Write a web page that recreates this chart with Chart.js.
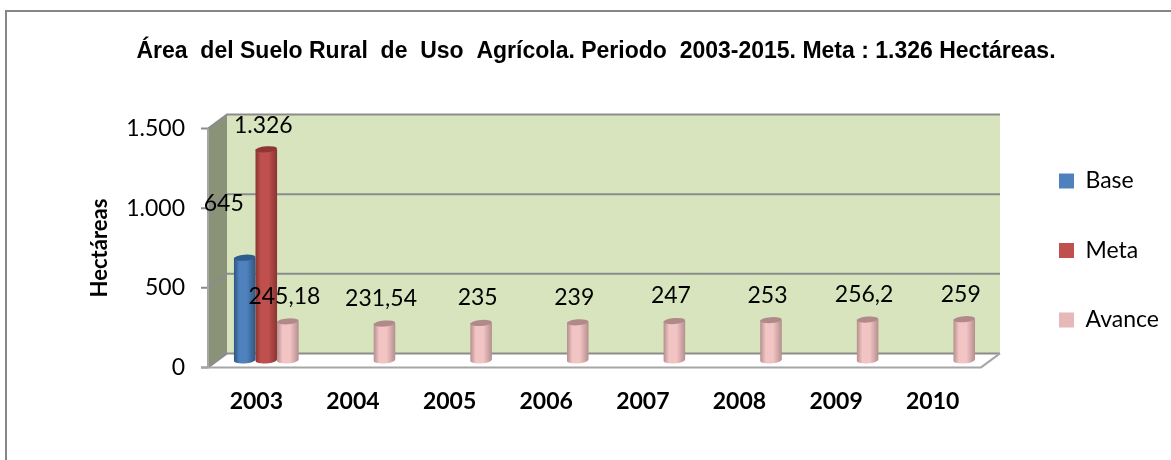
<!DOCTYPE html>
<html>
<head>
<meta charset="utf-8">
<script src="https://cdn.jsdelivr.net/npm/chart.js@4"></script>
<style>
html, body { margin: 0; padding: 0; background: #fff; }
#wrap { width: 1171px; height: 460px; }
</style>
</head>
<body>
<div id="wrap"><canvas id="areaSueloChart" width="1171" height="460"></canvas></div>
<script>
const years = ['2003', '2004', '2005', '2006', '2007', '2008', '2009', '2010'];
const baseValues = [645, null, null, null, null, null, null, null];
const metaValues = [1326, null, null, null, null, null, null, null];
const avanceValues = [245.18, 231.54, 235, 239, 247, 253, 256.2, 259];
const yTicks = [0, 500, 1000, 1500];
const chartTitle = 'Área  del Suelo Rural  de  Uso  Agrícola. Periodo  2003-2015. Meta : 1.326 Hectáreas.';

// how far the back wall sits from the front axis
const depthX = 19;
const depthY = 14;
// the bars stand a little behind the front edge of the floor
const barShiftX = 10;
const barShiftY = 7;
// value label offset from the bar, one per dataset (Base, Meta, Avance)
const labelDx = [-11, 7, 6.5];
const labelUp = [54, 24, 25];

function numLabel(v) {
    return v.toLocaleString('de-DE');
}

const frameAndWalls = {
    id: 'frameAndWalls',
    beforeLayout(chart) {
        // reserve the whole strip right of the plot for the legend
        const lg = chart.legend;
        if (!lg.wideFit) {
            const fit = lg.fit;
            lg.fit = function () { fit.call(this); this.width = 190; };
            lg.wideFit = true;
        }
    },
    afterLayout(chart) {
        const lg = chart.legend;
        lg.left = 1059 - lg.options.labels.padding;
        lg.top += 18;
        lg.bottom += 18;
    },
    beforeDatasetsDraw(chart) {
        const { ctx, chartArea: a, scales: { y } } = chart;
        ctx.save();
        // back wall
        ctx.fillStyle = '#d7e4bd';
        ctx.fillRect(a.left + depthX, a.top - depthY, a.width, a.height);
        // side wall
        ctx.fillStyle = '#8a9278';
        ctx.beginPath();
        ctx.moveTo(a.left, a.top);
        ctx.lineTo(a.left + depthX, a.top - depthY);
        ctx.lineTo(a.left + depthX, a.bottom - depthY);
        ctx.lineTo(a.left, a.bottom);
        ctx.closePath();
        ctx.fill();
        // grid lines run along the side wall and the back wall
        ctx.strokeStyle = '#8c8c8c';
        ctx.lineWidth = 2;
        yTicks.forEach((t) => {
            const py = y.getPixelForValue(t);
            ctx.beginPath();
            ctx.moveTo(a.left - 7, py);
            ctx.lineTo(a.left, py);
            ctx.lineTo(a.left + depthX, py - depthY);
            ctx.lineTo(a.right + depthX, py - depthY);
            ctx.stroke();
        });
        // floor
        ctx.strokeStyle = '#a6a6a6';
        ctx.beginPath();
        ctx.moveTo(a.left - 7, a.bottom);
        ctx.lineTo(a.right, a.bottom);
        ctx.lineTo(a.right + depthX, a.bottom - depthY);
        ctx.stroke();
        ctx.beginPath();
        ctx.moveTo(a.left, a.top);
        ctx.lineTo(a.left, a.bottom);
        ctx.stroke();
        ctx.restore();
    },
    beforeDatasetDraw() {
        return false; // cylinders are drawn below
    },
    afterDatasetsDraw(chart) {
        const { ctx } = chart;
        const shades = [
            ['#2f5c8f', '#4f81bd', '#2d5683'],
            ['#8f3533', '#c0504d', '#8a3431'],
            ['#b08a8a', '#f2c4c4', '#b58e8e']
        ];
        chart.data.datasets.forEach((ds, di) => {
            chart.getDatasetMeta(di).data.forEach((bar, i) => {
                if (ds.data[i] === null) return;
                const c = shades[di];
                const x = bar.x + barShiftX;
                const top = bar.y - barShiftY;
                const bottom = bar.base - barShiftY;
                const hw = bar.width / 2;
                const g = ctx.createLinearGradient(x - hw, 0, x + hw, 0);
                g.addColorStop(0, c[2]);
                g.addColorStop(0.25, c[1]);
                g.addColorStop(0.6, c[1]);
                g.addColorStop(1, c[2]);
                ctx.save();
                ctx.fillStyle = g;
                ctx.beginPath();
                ctx.moveTo(x - hw, top);
                ctx.lineTo(x - hw, bottom);
                ctx.ellipse(x, bottom, hw, 3, -0.08, Math.PI, 0, true);
                ctx.lineTo(x + hw, top);
                ctx.closePath();
                ctx.fill();
                ctx.fillStyle = c[0];
                ctx.beginPath();
                ctx.ellipse(x, top, hw, 3, -0.08, 0, Math.PI * 2);
                ctx.fill();
                ctx.restore();
            });
        });
        // value labels
        ctx.save();
        ctx.font = '23px Lato';
        ctx.fillStyle = '#000';
        ctx.textAlign = 'center';
        ctx.textBaseline = 'middle';
        chart.data.datasets.forEach((ds, di) => {
            chart.getDatasetMeta(di).data.forEach((bar, i) => {
                if (ds.data[i] === null) return;
                ctx.fillText(numLabel(ds.data[i]), bar.x + labelDx[di], bar.y - barShiftY - labelUp[di]);
            });
        });
        ctx.restore();
        // chart frame, only its top and left edges fall inside the picture
        ctx.save();
        ctx.strokeStyle = '#868686';
        ctx.lineWidth = 2;
        ctx.strokeRect(6, 11, 1200, 600);
        ctx.restore();
    }
};

new Chart(document.getElementById('areaSueloChart').getContext('2d'), {
    type: 'bar',
    data: {
        labels: years,
        datasets: [
            { label: 'Base', data: baseValues, backgroundColor: '#4f81bd' },
            { label: 'Meta', data: metaValues, backgroundColor: '#c0504d' },
            { label: 'Avance', data: avanceValues, backgroundColor: '#e6b9b8' }
        ]
    },
    options: {
        responsive: false,
        animation: false,
        layout: { padding: { left: 21, right: 0, top: 38, bottom: 33 } },
        datasets: { bar: { barPercentage: 1, categoryPercentage: 0.67 } },
        plugins: {
            tooltip: { enabled: false },
            title: {
                display: true,
                text: chartTitle,
                color: '#000',
                font: { family: 'Liberation Sans', size: 23, weight: 'bold' },
                padding: { top: 0, bottom: 63 }
            },
            legend: {
                position: 'right',
                labels: {
                    boxWidth: 15,
                    boxHeight: 15,
                    padding: 46.5,
                    color: '#000',
                    font: { family: 'Lato', size: 23 }
                }
            }
        },
        scales: {
            x: {
                grid: { display: false },
                border: { display: false },
                ticks: { color: '#000', font: { family: 'Lato', size: 23, weight: 'bold' }, padding: 12 }
            },
            y: {
                min: 0,
                max: 1500,
                afterBuildTicks(axis) { axis.ticks = yTicks.map((v) => ({ value: v })); },
                afterFit(axis) { axis.width = 187; },
                grid: { display: false },
                border: { display: false },
                ticks: {
                    color: '#000',
                    font: { family: 'Lato', size: 23 },
                    padding: 15,
                    callback: (v) => numLabel(v)
                },
                title: {
                    display: true,
                    text: 'Hectáreas',
                    color: '#000',
                    font: { family: 'Lato', size: 22, weight: 'bold' },
                    padding: { top: 66, bottom: 0 }
                }
            }
        }
    },
    plugins: [frameAndWalls]
});
</script>
</body>
</html>
